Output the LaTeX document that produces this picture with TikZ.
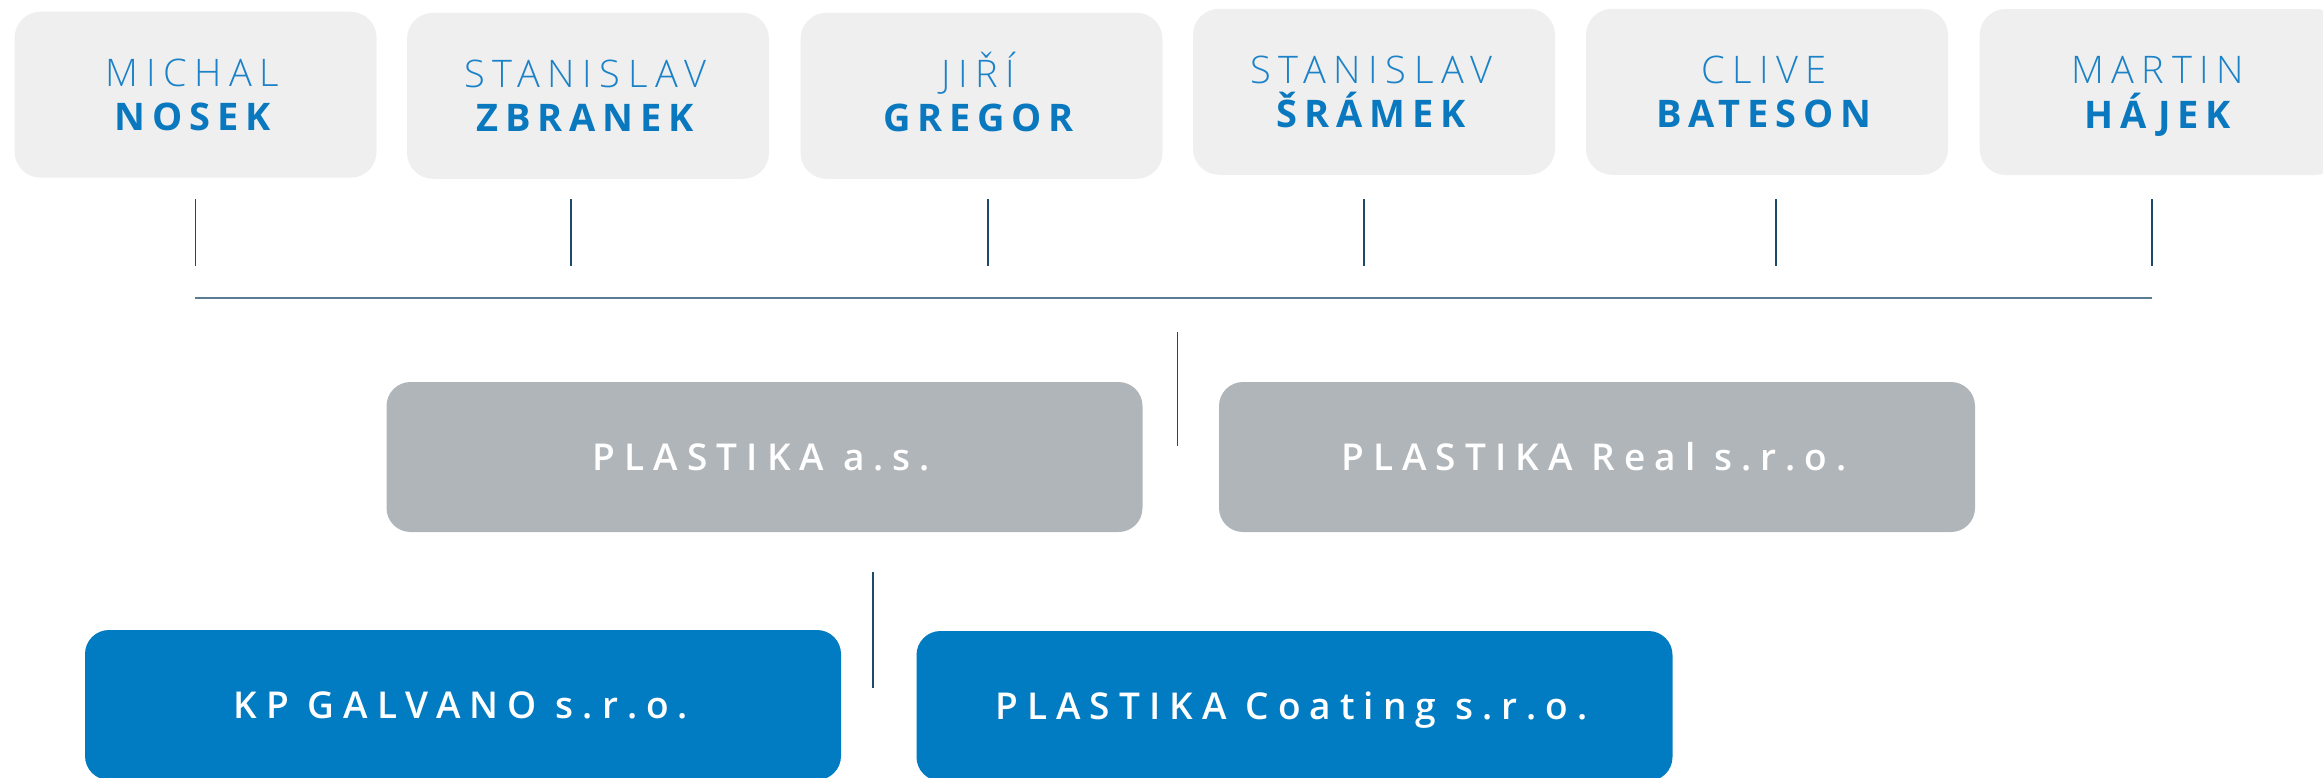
\documentclass[tikz,border=0pt]{standalone}
\usepackage{fontspec}
\newfontfamily\fLight[LetterSpace=20]{Open Sans Light}
\newfontfamily\fBold[LetterSpace=18]{Open Sans Bold}
\newfontfamily\fSemi[LetterSpace=24.5]{Open Sans Semibold}
\definecolor{boxgrey}{HTML}{EFEFEF}
\definecolor{compgrey}{HTML}{B0B5B9}
\definecolor{compblue}{HTML}{017BC2}
\definecolor{nameblue}{HTML}{1B82C8}
\definecolor{lastblue}{HTML}{0A78BF}
\definecolor{linenavy}{HTML}{1F4B6B}
\definecolor{lineslate}{HTML}{5A7C93}
\newcommand\mkperson[5]{%
  \node[pbox] (#1) at (#2,#3) {};
  \node[firstname] (#1f) at ([xshift=-3pt,yshift=8.7pt]#1.center) {#4};
  \node[lastname] (#1l) at ([xshift=-3pt,yshift=-36pt]#1.center) {#5};}
\begin{document}
\begin{tikzpicture}[x=1pt,y=-1pt,
  pbox/.style={fill=boxgrey,rounded corners=26pt,minimum width=362pt,minimum height=166pt,inner sep=0pt},
  firstname/.style={text=nameblue,font=\fLight\fontsize{38}{45}\selectfont,inner sep=0pt,anchor=base},
  lastname/.style={text=lastblue,font=\fBold\fontsize{38}{45}\selectfont,inner sep=0pt,anchor=base},
  cbox/.style={rounded corners=24pt,minimum width=756pt,minimum height=150pt,inner sep=0pt},
  ctext/.style={text=white,font=\fSemi\fontsize{37}{44}\selectfont,inner sep=0pt,anchor=base},
  greybox/.style={cbox,fill=compgrey},
  bluebox/.style={cbox,fill=compblue},
  vline/.style={draw=linenavy,line width=1.5pt},
  hline/.style={draw=lineslate,line width=2pt}]
\useasboundingbox (0,0) rectangle (2323,777);
\clip (0,0) rectangle (2323,777);
% people
\mkperson{p1}{195.6}{94.7}{MICHAL}{NOSEK}
\mkperson{p2}{588}{95.8}{STANISLAV}{ZBRANEK}
\mkperson{p3}{981.5}{95.8}{JIŘÍ}{GREGOR}
\mkperson{p4}{1374}{91.8}{STANISLAV}{ŠRÁMEK}
\mkperson{p5}{1767}{91.8}{CLIVE}{BATESON}
\mkperson{p6}{2160.7}{92}{MARTIN}{HÁJEK}
% stubs under people
\foreach \i/\x in {1/195.4,2/571,3/988,4/1364,5/1776,6/2152}{
  \coordinate (s\i a) at (\x,199);
  \coordinate (s\i b) at (\x,266);
  \draw[vline] (s\i a) -- (s\i b);
}
% horizontal bar
\coordinate (barL) at (195.4,297.7);
\coordinate (barR) at (2152,297.7);
\draw[hline] (barL) -- (barR);
% companies
\node[greybox] (pas) at (764.5,457) {};
\node[ctext] (pastext) at ([xshift=-3pt,yshift=-13pt]pas.center) {PLASTIKA a.s.};
\node[greybox] (preal) at (1597,457) {};
\node[ctext] (prealtext) at ([xshift=-3pt,yshift=-13pt]preal.center) {PLASTIKA Real s.r.o.};
\node[bluebox] (kpg) at (463,705) {};
\node[ctext] (kpgtext) at ([xshift=-2pt,yshift=-13pt]kpg.center) {KP GALVANO s.r.o.};
\node[bluebox] (pcoat) at (1294.5,706) {};
\node[ctext] (pcoattext) at ([xshift=-3pt,yshift=-13pt]pcoat.center) {PLASTIKA Coating s.r.o.};
% connector stubs
\coordinate (m1) at (1177.5,332);
\coordinate (m2) at (1177.5,446);
\draw[vline] (m1) -- (m2);
\coordinate (l1) at (873,572);
\coordinate (l2) at (873,688);
\draw[vline] (l1) -- (l2);
\end{tikzpicture}
\end{document}
